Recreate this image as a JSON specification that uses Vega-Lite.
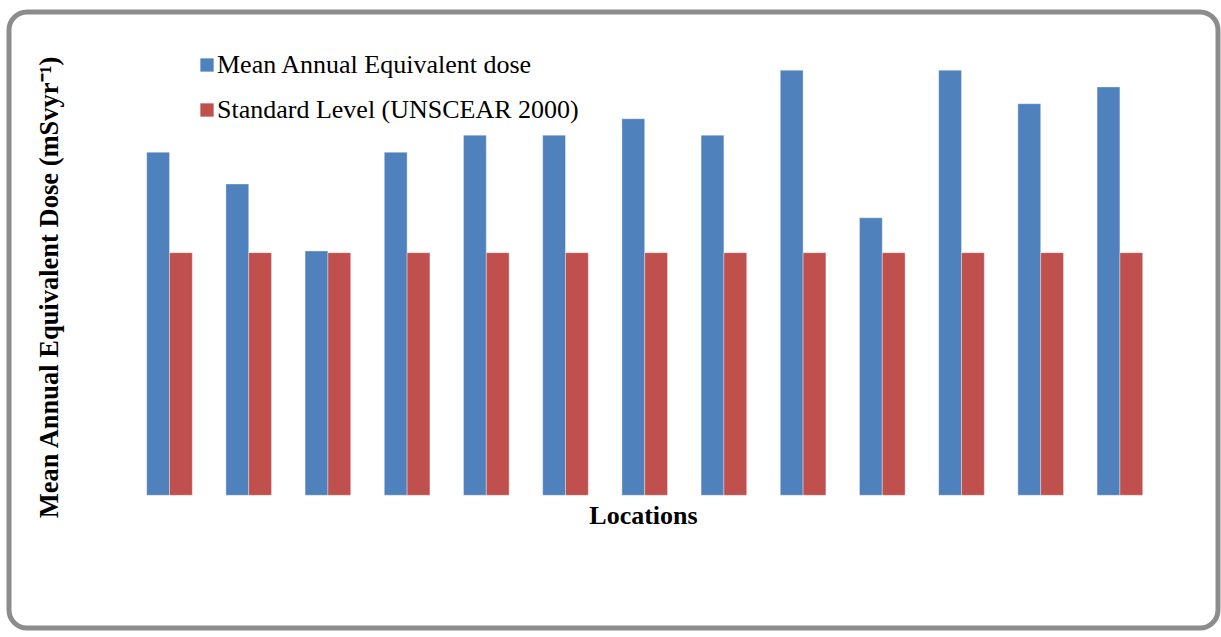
{
  "$schema": "https://vega.github.io/schema/vega-lite/v6.json",
  "autosize": "none",
  "padding": {"left": 9, "top": 12, "right": 3, "bottom": 9},
  "width": 1209,
  "height": 616,
  "background": "white",
  "config": {
    "font": "Liberation Serif",
    "view": {"stroke": "#8c8c8c", "strokeWidth": 5, "cornerRadius": 18}
  },
  "data": {
    "values": [
      {"location": "Location 1", "series": "Mean Annual Equivalent dose", "value": 1.414},
      {"location": "Location 1", "series": "Standard Level (UNSCEAR 2000)", "value": 1.0},
      {"location": "Location 2", "series": "Mean Annual Equivalent dose", "value": 1.283},
      {"location": "Location 2", "series": "Standard Level (UNSCEAR 2000)", "value": 1.0},
      {"location": "Location 3", "series": "Mean Annual Equivalent dose", "value": 1.007},
      {"location": "Location 3", "series": "Standard Level (UNSCEAR 2000)", "value": 1.0},
      {"location": "Location 4", "series": "Mean Annual Equivalent dose", "value": 1.414},
      {"location": "Location 4", "series": "Standard Level (UNSCEAR 2000)", "value": 1.0},
      {"location": "Location 5", "series": "Mean Annual Equivalent dose", "value": 1.484},
      {"location": "Location 5", "series": "Standard Level (UNSCEAR 2000)", "value": 1.0},
      {"location": "Location 6", "series": "Mean Annual Equivalent dose", "value": 1.484},
      {"location": "Location 6", "series": "Standard Level (UNSCEAR 2000)", "value": 1.0},
      {"location": "Location 7", "series": "Mean Annual Equivalent dose", "value": 1.552},
      {"location": "Location 7", "series": "Standard Level (UNSCEAR 2000)", "value": 1.0},
      {"location": "Location 8", "series": "Mean Annual Equivalent dose", "value": 1.484},
      {"location": "Location 8", "series": "Standard Level (UNSCEAR 2000)", "value": 1.0},
      {"location": "Location 9", "series": "Mean Annual Equivalent dose", "value": 1.752},
      {"location": "Location 9", "series": "Standard Level (UNSCEAR 2000)", "value": 1.0},
      {"location": "Location 10", "series": "Mean Annual Equivalent dose", "value": 1.144},
      {"location": "Location 10", "series": "Standard Level (UNSCEAR 2000)", "value": 1.0},
      {"location": "Location 11", "series": "Mean Annual Equivalent dose", "value": 1.752},
      {"location": "Location 11", "series": "Standard Level (UNSCEAR 2000)", "value": 1.0},
      {"location": "Location 12", "series": "Mean Annual Equivalent dose", "value": 1.614},
      {"location": "Location 12", "series": "Standard Level (UNSCEAR 2000)", "value": 1.0},
      {"location": "Location 13", "series": "Mean Annual Equivalent dose", "value": 1.683},
      {"location": "Location 13", "series": "Standard Level (UNSCEAR 2000)", "value": 1.0}
    ]
  },
  "mark": {"type": "bar", "stroke": "white", "strokeOpacity": 0.35, "strokeWidth": 1},
  "encoding": {
    "x": {
      "field": "location",
      "type": "nominal",
      "sort": null,
      "scale": {"paddingInner": 0.424, "paddingOuter": 0, "range": [137.7, 1133.7]},
      "axis": {
        "title": "Locations",
        "titleFont": "Liberation Serif",
        "titleFontSize": 26,
        "titleFontWeight": "bold",
        "titleColor": "black",
        "titleBaseline": "middle",
        "titleX": 634,
        "titleY": -113,
        "labels": false,
        "ticks": false,
        "domain": false,
        "grid": false
      }
    },
    "xOffset": {"field": "series", "type": "nominal", "scale": {"paddingInner": 0, "paddingOuter": 0}},
    "y": {
      "field": "value",
      "type": "quantitative",
      "scale": {"domain": [-0.547, 1.992], "nice": false},
      "axis": {
        "title": "Mean Annual Equivalent Dose (mSvyr⁻¹)",
        "titleFont": "Liberation Serif",
        "titleFontSize": 26.5,
        "titleFontWeight": "bold",
        "titleColor": "black",
        "titleBaseline": "middle",
        "titleX": 40,
        "titleY": 275,
        "labels": false,
        "ticks": false,
        "domain": false,
        "grid": false
      }
    },
    "color": {
      "field": "series",
      "type": "nominal",
      "scale": {
        "domain": ["Mean Annual Equivalent dose", "Standard Level (UNSCEAR 2000)"],
        "range": ["#4F81BD", "#C0504D"]
      },
      "legend": {
        "title": null,
        "orient": "none",
        "legendX": 185,
        "legendY": 40,
        "padding": 0,
        "symbolType": "square",
        "symbolSize": 177,
        "symbolStrokeWidth": 0,
        "labelFont": "Liberation Serif",
        "labelFontSize": 26,
        "labelColor": "black",
        "labelOffset": -3,
        "labelLimit": 600,
        "rowPadding": 19
      }
    }
  }
}
